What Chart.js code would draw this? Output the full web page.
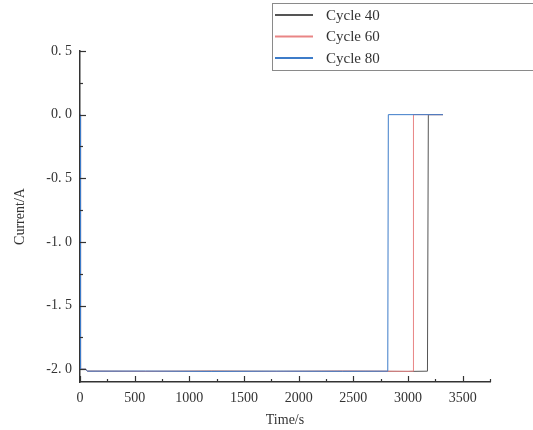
<!DOCTYPE html>
<html>
<head>
<meta charset="utf-8">
<script src="https://cdn.jsdelivr.net/npm/chart.js@4.4.1/dist/chart.umd.min.js"></script>
<style>
html,body{margin:0;padding:0;background:#fff;}
#wrap{width:533px;height:430px;position:relative;}
</style>
</head>
<body>
<div id="wrap"><canvas id="c" width="533" height="430"></canvas></div>
<script>
// ---- data ----
const seriesLabels = ['Cycle 40', 'Cycle 60', 'Cycle 80'];
const seriesColors = ['#555555', '#e98585', '#3d7cc9'];
const cycle40Time = [0, 5, 50, 70, 600, 1200, 1800, 2400, 3000, 3178, 3186, 3320];
const cycle40Curr = [0, -2.0, -2.0, -2.015, -2.017, -2.014, -2.016, -2.015, -2.017, -2.015, 0, 0];
const cycle60Time = [0, 5, 50, 70, 600, 1200, 1800, 2400, 3000, 3046, 3050, 3320];
const cycle60Curr = [0, -2.0, -2.0, -2.015, -2.016, -2.015, -2.017, -2.014, -2.016, -2.015, 0, 0];
const cycle80Time = [0, 5, 50, 70, 600, 1200, 1800, 2400, 2815, 2820, 3320];
const cycle80Curr = [0, -2.0, -2.0, -2.015, -2.014, -2.017, -2.015, -2.016, -2.015, 0, 0];
const xTickValues = [0, 500, 1000, 1500, 2000, 2500, 3000, 3500];
const yTickValues = [-2.0, -1.5, -1.0, -0.5, 0.0, 0.5];
const xMinorStep = 250;
const yMinorStep = 0.25;

function pts(t, v) { return t.map((x, i) => ({x: x, y: v[i]})); }
const seriesData = [pts(cycle40Time, cycle40Curr), pts(cycle60Time, cycle60Curr), pts(cycle80Time, cycle80Curr)];

const FONT = '"Liberation Serif", "DejaVu Serif", serif';
const TXT = '#333333';

// inward ticks + custom legend
const decor = {
  id: 'decor',
  afterDraw(chart) {
    const ctx = chart.ctx;
    const xs = chart.scales.x, ys = chart.scales.y;
    const ca = chart.chartArea;
    ctx.save();
    ctx.strokeStyle = '#333';
    ctx.lineWidth = 1.2;
    for (let v = 0; v <= xs.max; v += xMinorStep) {
      const major = xTickValues.includes(v);
      const px = Math.round(xs.getPixelForValue(v)) + 0.5;
      ctx.beginPath();
      ctx.moveTo(px, ca.bottom);
      ctx.lineTo(px, ca.bottom - (major ? 6 : 3));
      ctx.stroke();
    }
    for (let v = -2.0; v <= ys.max + 1e-9; v += yMinorStep) {
      const major = yTickValues.some(t => Math.abs(t - v) < 1e-9);
      const py = Math.round(ys.getPixelForValue(v)) + 0.5;
      ctx.beginPath();
      ctx.moveTo(ca.left, py);
      ctx.lineTo(ca.left + (major ? 6 : 3), py);
      ctx.stroke();
    }
    const bx = 272.5, by = 3.5, bw = 270, bh = 67;
    ctx.strokeStyle = '#8a8a8a';
    ctx.lineWidth = 1;
    ctx.strokeRect(bx, by, bw, bh);
    const rowsY = [15, 36.5, 58];
    ctx.font = '15px ' + FONT;
    ctx.textBaseline = 'middle';
    ctx.textAlign = 'left';
    chart.data.datasets.forEach((ds, i) => {
      ctx.strokeStyle = ds.borderColor;
      ctx.lineWidth = 2;
      ctx.beginPath();
      ctx.moveTo(275, rowsY[i]);
      ctx.lineTo(313, rowsY[i]);
      ctx.stroke();
      ctx.fillStyle = TXT;
      ctx.fillText(ds.label, 326, rowsY[i] + 1);
    });
    ctx.restore();
  }
};

new Chart(document.getElementById('c'), {
  type: 'line',
  data: {
    datasets: seriesLabels.map((lab, i) => ({
      label: lab,
      data: seriesData[i],
      borderColor: seriesColors[i],
      backgroundColor: seriesColors[i],
      borderWidth: 1,
      pointRadius: 0,
      tension: 0,
      fill: false,
      order: 3 - i
    }))
  },
  options: {
    responsive: false,
    animation: false,
    events: [],
    layout: {padding: {left: 0, right: 43, top: 51, bottom: 0}},
    plugins: {legend: {display: false}, tooltip: {enabled: false}},
    scales: {
      x: {
        type: 'linear',
        min: 0, max: 3750,
        afterBuildTicks(s) { s.ticks = xTickValues.map(v => ({value: v})); },
        afterFit(s) { s.height = 48; },
        grid: {display: false, drawTicks: false},
        border: {display: true, color: '#333', width: 1.5},
        ticks: {padding: 8, color: TXT, font: {family: FONT, size: 14}, maxRotation: 0, autoSkip: false,
          callback: v => String(v)},
        title: {display: true, text: 'Time/s', color: TXT, font: {family: FONT, size: 14}, padding: {top: 1, bottom: 1}}
      },
      y: {
        type: 'linear',
        min: -2.1, max: 0.5,
        afterBuildTicks(s) { s.ticks = yTickValues.map(v => ({value: v})); },
        afterFit(s) { s.width = 80; },
        grid: {display: false, drawTicks: false},
        border: {display: true, color: '#333', width: 1.5},
        ticks: {padding: 8, color: TXT, font: {family: FONT, size: 14}, autoSkip: false,
          callback: v => Number(v).toFixed(1).replace('.', '. ')},
        title: {display: true, text: 'Current/A', color: TXT, font: {family: FONT, size: 14}, padding: {top: 12, bottom: 12}}
      }
    }
  },
  plugins: [decor]
});
</script>
</body>
</html>
